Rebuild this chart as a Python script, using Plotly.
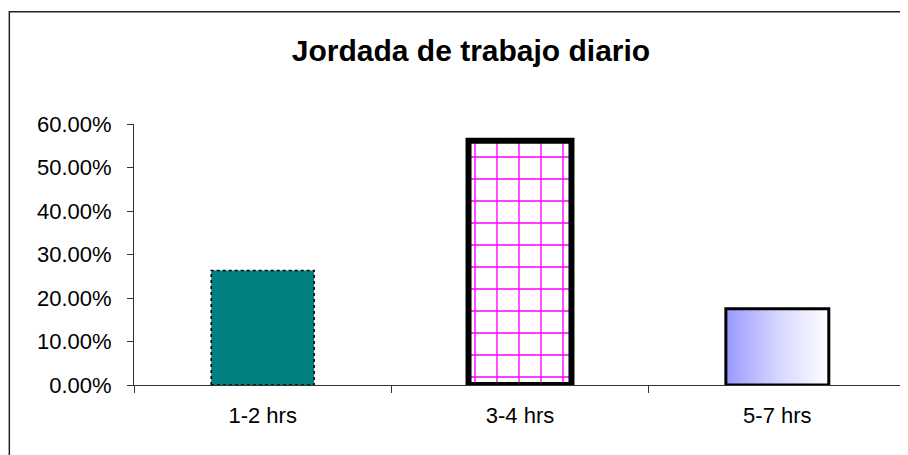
import plotly.graph_objects as go

categories = ["1-2 hrs", "3-4 hrs", "5-7 hrs"]
values = [0.2632, 0.5614, 0.1754]
y_ticks = [0.0, 0.1, 0.2, 0.3, 0.4, 0.5, 0.6]
title_text = "Jordada de trabajo diario"

BAR_W = 0.4
FONT = "Arial, Liberation Sans, sans-serif"
xs = list(range(len(categories)))

fig = go.Figure()

# bar 1: teal
fig.add_trace(go.Bar(
    x=[xs[0]], y=[values[0]], width=BAR_W,
    marker=dict(color="#008080", line=dict(width=0)),
    hoverinfo="skip", showlegend=False,
))

# bar 2: white with magenta grid pattern and thick black border
fig.add_trace(go.Bar(
    x=[xs[1]], y=[values[1]], width=BAR_W,
    marker=dict(
        color="#FFFFFF",
        line=dict(color="#000000", width=6),
        pattern=dict(shape="+", fgcolor="#FF00FF", bgcolor="#FFFFFF",
                     fillmode="overlay", size=22, solidity=0.12, fgopacity=1),
    ),
    hoverinfo="skip", showlegend=False,
))

def outline(i):
    h = BAR_W / 2
    v = values[i]
    return [i - h, i - h, i + h, i + h, i - h], [0, v, v, 0, 0]

# dotted outline of first bar
ox, oy = outline(0)
fig.add_trace(go.Scatter(x=ox, y=oy, mode="lines",
                         line=dict(color="#000000", width=1.5, dash="dot"),
                         hoverinfo="skip", showlegend=False, cliponaxis=False))

# bar 3: horizontal gradient
gx, gy = outline(2)
fig.add_trace(go.Scatter(x=gx, y=gy, mode="lines", fill="toself",
                         fillgradient=dict(type="horizontal",
                                           colorscale=[[0, "#9999FF"], [0.5, "#D5D5FF"], [1, "#FFFFFF"]]),
                         line=dict(color="#000000", width=3),
                         hoverinfo="skip", showlegend=False, cliponaxis=False))

W, H = 900, 447
L, R, T, B = 125.5, 2, 116, 70
pw, ph = W - L - R, H - T - B
bottom_y = T + ph

fig.update_layout(
    width=W, height=H,
    margin=dict(l=L, r=R, t=T, b=B, pad=0),
    paper_bgcolor="#FFFFFF", plot_bgcolor="#FFFFFF",
    font=dict(family=FONT, color="#000000", size=22),
    barmode="overlay",
    title=dict(text="<b>" + title_text + "</b>", x=463 / W, xanchor="center",
               y=1 - 42 / H, yanchor="middle", yref="container",
               font=dict(family=FONT, size=30, color="#000000")),
    xaxis=dict(
        range=[-0.5, 2.5], tickvals=xs, ticktext=categories,
        ticks="", showgrid=False, zeroline=False,
        showline=True, linecolor="#333333", linewidth=1,
        ticklabelstandoff=11,
        minor=dict(tickvals=[-0.5, 0.5, 1.5, 2.5], ticks="outside", ticklen=7,
                   tickcolor="#333333", tickwidth=1, showgrid=False),
        tickfont=dict(family=FONT, size=22, color="#000000"),
    ),
    yaxis=dict(
        range=[0, 0.6], tickvals=y_ticks, tickformat=".2%",
        ticks="outside", ticklen=6, tickcolor="#333333",
        showgrid=False, zeroline=False,
        showline=True, linecolor="#333333", linewidth=1,
        ticklabelstandoff=11,
        tickfont=dict(family=FONT, size=22, color="#000000"),
    ),
    shapes=[dict(type="rect", xref="paper", yref="paper",
                 x0=(0.75 - L) / pw, x1=(W + 5 - L) / pw,
                 y0=(bottom_y - H - 5) / ph, y1=(bottom_y - 3.7) / ph,
                 line=dict(color="#222222", width=1.5), fillcolor="rgba(0,0,0,0)",
                 layer="above")],
)

fig.write_html("out.html")
